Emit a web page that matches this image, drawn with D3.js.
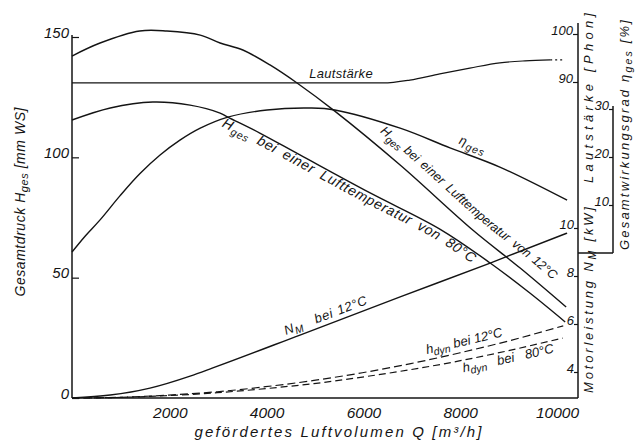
<!DOCTYPE html>
<html><head><meta charset="utf-8">
<script src="https://cdn.jsdelivr.net/npm/d3@7/dist/d3.min.js"></script>
<style>
html,body{margin:0;padding:0;background:#fff;}
svg{display:block;}
text{font-family:"Liberation Sans",Arial,sans-serif;font-style:italic;fill:#141414;}
</style></head><body>
<svg id="chart" width="637" height="441"></svg>
<script>
// ---------------- data ----------------
const qTicks=[2000,4000,6000,8000,10000];
const hTicks=[0,50,100,150];
const phonTicks=[90,100];
const etaTicks=[10,20,30];
const nmTicks=[4,6,8,10];

// Gesamtdruck H_ges [mm WS] at 12 °C
const hges12Q=[0,580,1400,1960,2650,3060,3530,4090,4650,5430,6780,8280,9260,10210];
const hges12V=[142.1,147.5,152.5,152.5,150.8,147.5,144.6,138.4,130.9,119.2,96.8,69.8,54.0,37.8];
// Gesamtdruck H_ges [mm WS] at 80 °C
const hges80Q=[0,790,1670,2440,3060,3220,3880,4710,6160,7600,8640,9460,10190];
const hges80V=[115.5,120.5,123.0,121.7,118.4,116.7,110.1,101.0,85.2,70.2,56.1,43.6,31.6];
// Gesamtwirkungsgrad eta_ges [%]
const etaQ=[0,270,580,990,1400,1820,2230,2650,3220,4030,4920,5430,6780,7810,8840,10230];
const etaV=[0.2,3.5,6.9,11.9,16.5,20.4,23.5,26.0,28.3,29.8,30.2,29.8,26.0,21.9,17.9,11.0];
// Lautstärke [Phon]
const phonQ=[0,3000,6430,6980,7600,8220,8840,9360,9880];
const phonV=[89.8,89.8,89.8,90.4,91.7,92.9,94.0,94.4,94.6];
const phonTailQ=[9880,10130];
const phonTailV=[94.6,94.6];
// Motorleistung N_M [kW] at 12 °C
const nmQ=[0,790,1610,2440,2910,4710,6780,8640,10230];
const nmV=[2.92,3.04,3.33,3.83,4.17,5.54,7.13,8.54,9.79];
// dynamischer Druck h_dyn [mm WS]
const hdyn12Q=[0,1000,2000,3000,4000,5000,6000,7000,8000,9000,10150];
const hdyn12V=[0,0.3,1.2,2.6,4.7,7.3,10.5,14.3,18.7,23.6,30.0];
const hdyn80Q=[0,1000,2000,3000,4000,5000,6000,7000,8000,9000,10140];
const hdyn80V=[0,0.25,1.0,2.2,3.9,6.0,8.7,11.8,15.4,19.6,24.9];

// ---------------- layout ----------------
const ink="#141414";
const left=72,right=578,bottom=398,etaX=613;
const svg=d3.select("#chart");
const x=d3.scaleLinear().domain([0,10455]).range([left,right]);
const yH=d3.scaleLinear().domain([0,150]).range([bottom,37]);
const yPhon=d3.scaleLinear().domain([90,100]).range([82,34]);
const yEta=d3.scaleLinear().domain([0,30]).range([253,109]);
const yNM=d3.scaleLinear().domain([4,10]).range([372,228]);

const smooth=d3.curveCatmullRom.alpha(0.5), mono=d3.curveMonotoneX;
function curve(id,Q,V,ys,cv,dash,w){
  const gen=d3.line().x(d=>x(d[0])).y(d=>ys(d[1])).curve(cv);
  return svg.append("path").attr("id",id).attr("d",gen(d3.zip(Q,V)))
    .attr("fill","none").attr("stroke",ink).attr("stroke-width",w||1.4)
    .attr("stroke-dasharray",dash||null).node();
}

// frame
const frame=svg.append("g").attr("stroke",ink).attr("stroke-width",1.5).attr("fill","none");
frame.append("line").attr("x1",left).attr("x2",left).attr("y1",yH(150)-2).attr("y2",bottom);
frame.append("line").attr("x1",left).attr("x2",right).attr("y1",bottom).attr("y2",bottom);
frame.append("line").attr("x1",right).attr("x2",right).attr("y1",23).attr("y2",bottom);
frame.append("line").attr("x1",etaX).attr("x2",etaX).attr("y1",yEta(30)-3).attr("y2",yEta(0));
frame.append("line").attr("x1",right).attr("x2",etaX).attr("y1",yEta(0)).attr("y2",yEta(0));

function tidy(g,size){
  g.select(".domain").remove();
  g.attr("font-size",size);
  g.selectAll(".tick line").attr("stroke",ink).attr("stroke-width",1.2);
  g.selectAll(".tick text").attr("fill",ink);
}
const fmt=d3.format("d");
const gL=svg.append("g").attr("transform",`translate(${left},0)`)
  .call(d3.axisLeft(yH).tickValues(hTicks).tickSizeInner(-7).tickSizeOuter(0).tickPadding(3).tickFormat(fmt));
tidy(gL,15); gL.selectAll(".tick text").attr("dy","0");
const gB=svg.append("g").attr("transform",`translate(0,${bottom})`)
  .call(d3.axisBottom(x).tickValues(qTicks).tickSize(0).tickPadding(9).tickFormat(fmt));
tidy(gB,15.5); gB.selectAll(".tick text").attr("dx","1");
const gP=svg.append("g").attr("transform",`translate(${right},0)`)
  .call(d3.axisLeft(yPhon).tickValues(phonTicks).tickSize(5).tickSizeOuter(0).tickPadding(0).tickFormat(fmt));
tidy(gP,13); gP.selectAll(".tick text").attr("dy","0");
const gE=svg.append("g").attr("transform",`translate(${etaX},0)`)
  .call(d3.axisLeft(yEta).tickValues(etaTicks).tickSize(4).tickSizeOuter(0).tickPadding(0).tickFormat(fmt));
tidy(gE,13); gE.selectAll(".tick text").attr("dy","0");
const gN=svg.append("g").attr("transform",`translate(${right},0)`)
  .call(d3.axisLeft(yNM).tickValues(nmTicks).tickSize(4).tickSizeOuter(0).tickPadding(0).tickFormat(fmt));
tidy(gN,13); gN.selectAll(".tick text").attr("dy","0");

// curves
const pH12=curve("hges12",hges12Q,hges12V,yH,smooth);
const pH80=curve("hges80",hges80Q,hges80V,yH,smooth);
const pEta=curve("eta",etaQ,etaV,yEta,smooth);
const pPhon=curve("phon",phonQ,phonV,yPhon,mono,null,1.2);
curve("phonTail",phonTailQ,phonTailV,yPhon,mono,"2,3",1.1);
const pNM=curve("nm",nmQ,nmV,yNM,mono);
const pD12=curve("hdyn12",hdyn12Q,hdyn12V,yH,mono,"8,4",1.2);
const pD80=curve("hdyn80",hdyn80Q,hdyn80V,yH,mono,"7,4",1.2);

// labels along curves: one <text> per word piece, following the curve
function offAt(node,px){
  let lo=0,hi=node.getTotalLength();
  for(let i=0;i<40;i++){const m=(lo+hi)/2; if(node.getPointAtLength(m).x<px) lo=m; else hi=m;}
  return lo;
}
function pathLabel(node,startQ,dy,words,size,ls,gaps){
  let off=offAt(node,x(startQ));
  words.forEach((w,i)=>{
    const t=svg.append("text").attr("font-size",size).attr("letter-spacing",ls||0);
    const tp=t.append("textPath").attr("href","#"+node.id).attr("startOffset",off);
    const parts=Array.isArray(w)?w:[[w,0]];
    let cur=0;
    parts.forEach(([s,sh,fs])=>{
      const target=dy+(sh||0);
      tp.append("tspan").attr("dy",target-cur).attr("font-size",fs||size).text(s);
      cur=target;
    });
    off+=t.node().getComputedTextLength()+(Array.isArray(gaps)?gaps[i]:gaps);
  });
}
const Hg=[["H",0],["ges",3.5,10.5]];
pathLabel(pH80,3190,11,[Hg,"bei","einer","Luft","temperatur","von","80°C"],14,0.75,[9,8,8,0,8,8,0]);
pathLabel(pH12,6200,-12,[Hg,"bei","einer","Luft","temperatur","von","12°C"],12.6,0,[4,5,6,0,6,5,0]);
pathLabel(pNM,4460,-5,[[["N",0],["M",3,10.5]],"bei","12°C"],13,0.6,[13,5,0]);
pathLabel(pD12,7360,-6,[[["h",0],["dyn",3,10.5]],"bei","12°C"],13,0,[4,4,0]);
pathLabel(pD80,8040,12,[[["h",0],["dyn",3,10.5]],"bei","80°C"],13,0,[11,11,0]);
pathLabel(pEta,7930,-7,[[["η",0],["ges",3.5,10.5]]],13,1,[0]);

svg.append("text").attr("x",x(5560)).attr("y",yPhon(90.83)).attr("text-anchor","middle")
  .attr("font-size",13).attr("letter-spacing",0.3).text("Lautstärke");

// axis titles
function title(xp,yp,len,size,parts,rot){
  const t=svg.append("text").attr("transform",`translate(${xp},${yp}) rotate(${rot})`)
    .attr("text-anchor","middle").attr("font-size",size)
    .attr("textLength",len).attr("lengthAdjust","spacing").attr("dy","0.35em");
  let cur=0;
  parts.forEach(([s,sh,fs],i)=>{
    const sp=t.append("tspan").attr("font-size",fs||size).text(s);
    if(i>0) sp.attr("dy",sh-cur);
    cur=sh;
  });
}
title(20,202,189,14,[["Gesamtdruck  H",0],["ges",3,11],[" [mm WS]",0]],-90);
title(588,98,170,13,[["Lautstärke  [Phon]",0]],-90);
title(624,135,230,13,[["Gesamtwirkungsgrad  η",0],["ges",3,10.5],["  [%]",0]],-90);
title(588,300,186,13,[["Motorleistung  N",0],["M",3,10.5],["  [kW]",0]],-90);
title(338,432,287,15,[["gefördertes  Luftvolumen   Q  [m³/h]",0]],0);
</script>
</body></html>
